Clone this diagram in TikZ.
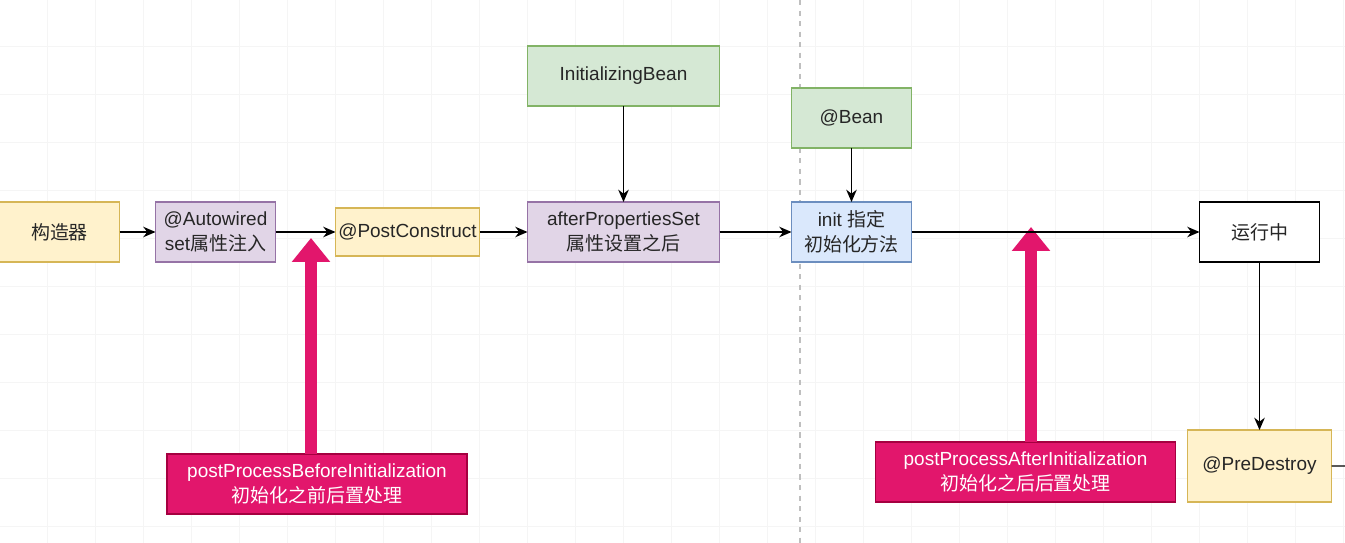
\documentclass[tikz,border=0pt]{standalone}
\usepackage{fontspec}
\setmainfont{Liberation Sans}
\newfontfamily\cjk{Noto Sans CJK SC}
\usetikzlibrary{arrows.meta, positioning, backgrounds}
\definecolor{yellowfill}{HTML}{FFF2CC}
\definecolor{yellowline}{HTML}{D6B656}
\definecolor{purplefill}{HTML}{E1D5E7}
\definecolor{purpleline}{HTML}{9673A6}
\definecolor{greenfill}{HTML}{D5E8D4}
\definecolor{greenline}{HTML}{82B366}
\definecolor{bluefill}{HTML}{DAE8FC}
\definecolor{blueline}{HTML}{6C8EBF}
\definecolor{hookcolor}{RGB}{226,22,108}
\definecolor{hookline}{RGB}{165,0,64}

\begin{document}
\begin{tikzpicture}[
    node distance=0.96cm,
    >={Stealth[length=7pt, width=6pt]},
    every node/.style={font=\fontsize{10.8}{14.2}\selectfont, text=black!85},
    basebox/.style={rectangle, draw, line width=0.8pt, outer sep=0pt,
        minimum width=2.4cm, minimum height=1.2cm, align=center,
        inner xsep=0pt, inner ysep=2pt},
    yellowbox/.style={basebox, draw=yellowline, fill=yellowfill},
    purplebox/.style={basebox, draw=purpleline, fill=purplefill},
    greenbox/.style={basebox, draw=greenline, fill=greenfill},
    bluebox/.style={basebox, draw=blueline, fill=bluefill},
    plainbox/.style={basebox, draw=black, fill=white},
    hookbox/.style={basebox, draw=hookline, fill=hookcolor, text=white,
        minimum width=6cm},
    fatarrow/.style={-{Triangle[width=0.74cm, length=0.48cm]},
        line width=0.24cm, hookcolor},
    arrow/.style={->, line width=0.8pt, black},
    gridline/.style={draw=black!4, line width=0.5pt},
    pagebreak/.style={draw=black!25, line width=0.6pt, dash pattern=on 3pt off 3pt},
]

\useasboundingbox (0,0) rectangle (26.9,-10.86);

% === CANVAS ===
\fill[white] (0,0) rectangle (26.9,-10.86);
\draw[gridline, shift={(-0.02,0.04)}] (0,0) grid[step=0.96cm] (27.9,-11.5);
\draw[pagebreak] (16.0,0) -- (16.0,-10.86);

% === MAIN FLOW ===
\node[yellowbox] (ctor) at (1.19,-4.64) {{\cjk 构造器}};
\node[purplebox, right=0.72cm of ctor] (autowired) {@Autowired\\set{\cjk 属性注入}};
\node[yellowbox, right=1.2cm of autowired, minimum width=2.88cm,
      minimum height=0.96cm] (postconstruct) {@PostConstruct};
\node[purplebox, right=0.96cm of postconstruct, minimum width=3.84cm] (afterprops)
    {afterPropertiesSet\\{\cjk 属性设置之后}};
\node[bluebox, right=1.44cm of afterprops] (initmethod) {init {\cjk 指定}\\{\cjk 初始化方法}};
\node[plainbox, right=5.76cm of initmethod] (running) {{\cjk 运行中}};
\node[yellowbox, below=3.36cm of running, minimum width=2.88cm,
      minimum height=1.44cm] (predestroy) {@PreDestroy};

% === HOOKS ABOVE ===
\node[greenbox, above=1.92cm of afterprops, minimum width=3.84cm] (initbean) {InitializingBean};
\node[greenbox, above=1.08cm of initmethod] (beanann) {@Bean};

% === POST PROCESSORS ===
\node[hookbox] (beforeinit) at (6.34,-9.68)
    {postProcessBeforeInitialization\\{\cjk 初始化之前后置处理}};
\node[hookbox] (afterinit) at (20.51,-9.44)
    {postProcessAfterInitialization\\{\cjk 初始化之后后置处理}};

\coordinate (beforetip) at (6.22,-4.76);
\coordinate (aftertip) at (20.62,-4.54);
\draw[fatarrow] (beforeinit.north -| beforetip) -- (beforetip);
\draw[fatarrow] (afterinit.north -| aftertip) -- (aftertip);

% === ARROWS ===
\draw[arrow] (ctor) -- (autowired);
\draw[arrow] (autowired) -- (postconstruct);
\draw[arrow] (postconstruct) -- (afterprops);
\draw[arrow] (afterprops) -- (initmethod);
\draw[arrow] (initmethod) -- (running);
\draw[arrow] (initbean) -- (afterprops);
\draw[arrow] (beanann) -- (initmethod);
\draw[arrow] (running) -- (predestroy);

\coordinate (exitpt) at (27.2,-9.32);
\draw[line width=0.8pt] (predestroy.east) -- (exitpt);

\end{tikzpicture}
\end{document}
